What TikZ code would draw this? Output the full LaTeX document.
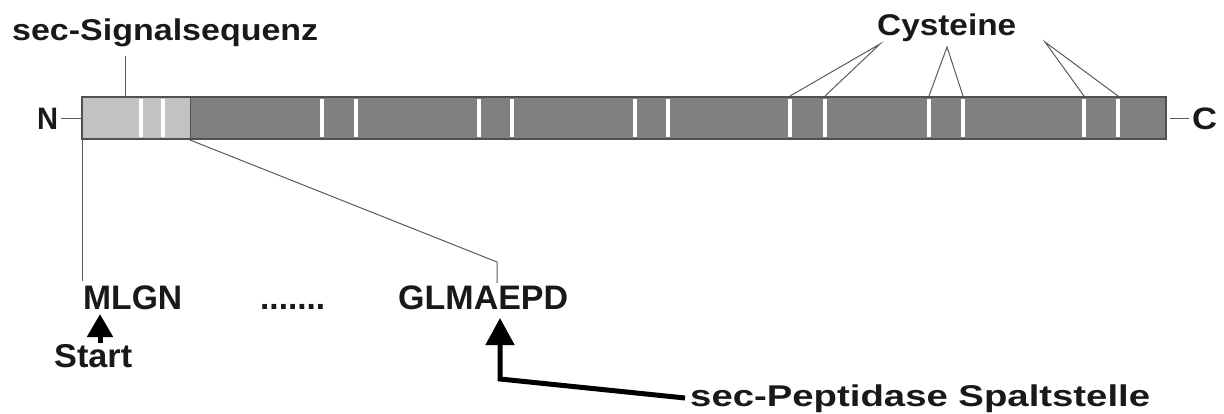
\documentclass[tikz,border=0pt]{standalone}
\usepackage{fontspec}
\setmainfont{Liberation Sans}
\usetikzlibrary{arrows.meta}
\definecolor{barlight}{HTML}{C2C2C2}
\definecolor{bardark}{HTML}{808080}
\definecolor{baredge}{HTML}{505050}
\definecolor{leader}{HTML}{5A5A5A}
% text stretched horizontally to a given width
\newcommand{\wtxt}[3]{\resizebox{#1pt}{\height}{\fontsize{#2}{#2}\selectfont\bfseries #3}}
\tikzset{
  lbl/.style={inner sep=0pt, anchor=base west, text=black!90},
  stripe/.style={draw=white, line width=3.5pt},
  leadline/.style={draw=leader, line width=1pt},
  fatarrow/.style={draw=black, line width=5pt,
    -{Triangle[width=28pt,length=27pt]}},
  smallarrow/.style={draw=black, line width=5pt,
    -{Triangle[width=25pt,length=23pt]}},
}
\begin{document}
\begin{tikzpicture}[x=1pt,y=-1pt]
\useasboundingbox (0,0) rectangle (1224,414);

% protein bar: signal sequence and mature part
\fill[barlight] (82,97) rectangle (190,139);
\fill[bardark] (190,97) rectangle (1166,139);
\draw[baredge, line width=1.2pt] (82,97) rectangle (1166,139);
\draw[baredge, line width=1pt] (190,97) -- (190,139);

% cysteine positions
\foreach \x in {141,163,322,356,479,512,635,668,790,825,929,963,1084,1118}
  \draw[stripe] (\x,99) -- (\x,137);

% named points on the bar
\coordinate (barN) at (82,119);
\coordinate (barC) at (1166,119);
\coordinate (sigtop) at (125,97);
\coordinate (barbl) at (82,140);
\coordinate (cutbar) at (190,140);
\foreach \x/\n in {790/c1,825/c2,929/c3,963/c4,1084/c5,1118/c6}
  \coordinate (\n) at (\x,96);

% labels
\node[lbl] (sig) at (12,41) {\wtxt{306}{30}{sec-Signalsequenz}};
\node[lbl] (cys) at (877,36) {\wtxt{139}{30}{Cysteine}};
\node[lbl] (nterm) at (37,130) {\wtxt{21}{31}{N}};
\node[lbl] (cterm) at (1192,130) {\wtxt{25}{31}{C}};
\node[lbl] (mlgn) at (83,309) {\wtxt{99}{34}{MLGN}};
\node[lbl] (dots) at (260,309) {\wtxt{65}{34}{.......}};
\node[lbl] (glma) at (398,309) {\wtxt{170}{34}{GLMAEPD}};
\node[lbl] (start) at (54,367) {\wtxt{78}{33}{Start}};
\node[lbl] (pept) at (690,406) {\wtxt{460}{30}{sec-Peptidase Spaltstelle}};

% terminus ticks
\draw[leadline] (nterm.east |- barN) ++(3,0) -- (barN);
\draw[leadline] (barC) ++(4,0) -- ([xshift=-3pt]cterm.west |- barC);

% leader lines
\draw[leadline] (sig.south -| sigtop) ++(0,8) -- (sigtop);
\coordinate (cysA) at (880,44);
\coordinate (cysB) at (947,47);
\coordinate (cysD) at (1045,42);
\draw[leadline] (c1) -- (cysA) -- (c2);
\draw[leadline] (c3) -- (cysB) -- (c4);
\draw[leadline] (c5) -- (cysD) -- (c6);

% signal sequence boundaries down to the sequence
\coordinate (mlgntop) at (82,281);
\coordinate (kink) at (497,262);
\coordinate (glmatop) at (497,283);
\draw[leadline] (barbl) -- (mlgntop);
\draw[leadline] (cutbar) -- (kink) -- (glmatop);

% arrows
\coordinate (sArrowBot) at (100,343);
\coordinate (sArrowTip) at (100,314);
\draw[smallarrow] (sArrowBot) -- (sArrowTip);
\coordinate (pArrowStart) at (685,398);
\coordinate (pArrowKink) at (500,379);
\coordinate (pArrowTip) at (500,318);
\draw[fatarrow, line join=miter] (pArrowStart) -- (pArrowKink) -- (pArrowTip);
\end{tikzpicture}
\end{document}
